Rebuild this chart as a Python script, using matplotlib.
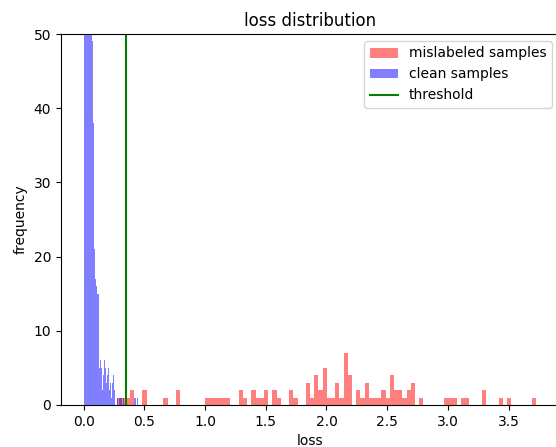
import matplotlib
matplotlib.use("Agg")
import matplotlib.pyplot as plt
import numpy as np

# histogram counts (100 bins each)
mislabeled_range = (0.278, 3.729)
mislabeled_counts = [
    1, 1, 1, 2, 0, 0, 2, 0, 0, 0,
    0, 1, 0, 0, 2, 0, 0, 0, 0, 0,
    0, 1, 1, 1, 1, 1, 1, 0, 0, 2,
    1, 0, 2, 1, 1, 2, 0, 2, 1, 0,
    0, 2, 1, 0, 0, 3, 1, 4, 2, 5,
    1, 1, 3, 1, 7, 4, 0, 2, 1, 3,
    1, 1, 1, 2, 1, 4, 2, 2, 1, 2,
    3, 0, 1, 0, 0, 0, 0, 0, 1, 1,
    1, 0, 1, 1, 0, 0, 0, 2, 0, 0,
    0, 1, 0, 1, 0, 0, 0, 0, 0, 1,
]

clean_range = (0.0, 0.445)
clean_counts = [
    170, 205, 190, 160, 150, 135, 120, 110, 100, 92,
    85, 78, 70, 64, 57, 49, 49, 38, 38, 33,
    21, 20, 17, 16, 17, 15, 14, 15, 6, 5,
    6, 6, 5, 5, 2, 4, 4, 4, 6, 6,
    5, 2, 3, 4, 4, 5, 5, 2, 3, 3,
    1, 1, 3, 3, 4, 4, 2, 2, 0, 0,
    0, 0, 1, 1, 0, 1, 1, 0, 1, 0,
    1, 1, 0, 1, 0, 0, 2, 2, 0, 0,
    0, 0, 0, 0, 0, 0, 0, 0, 0, 0,
    0, 0, 0, 0, 1, 0, 1, 0, 1, 1,
]

threshold = 0.35


def hist_from_counts(ax, counts, rng, **kw):
    edges = np.linspace(rng[0], rng[1], len(counts) + 1)
    centers = (edges[:-1] + edges[1:]) / 2
    ax.hist(centers, bins=edges, weights=counts, **kw)


fig = plt.figure(figsize=(5.56, 4.47), dpi=100)
ax = fig.add_axes([61 / 556, 42 / 447, (559 - 61) / 556, (405 - 34) / 447])

hist_from_counts(ax, mislabeled_counts, mislabeled_range, color="red", alpha=0.5, label="mislabeled samples")
hist_from_counts(ax, clean_counts, clean_range, color="blue", alpha=0.5, label="clean samples")
ax.axvline(threshold, color="green", label="threshold")

ax.set_xlim(-0.186, 3.915)
ax.set_ylim(0, 50)
ax.set_xticks(np.arange(0, 3.51, 0.5))
ax.set_title("loss distribution")
ax.set_xlabel("loss")
ax.set_ylabel("frequency")
ax.legend(loc="upper right")

fig.savefig("out.png", dpi=100)
